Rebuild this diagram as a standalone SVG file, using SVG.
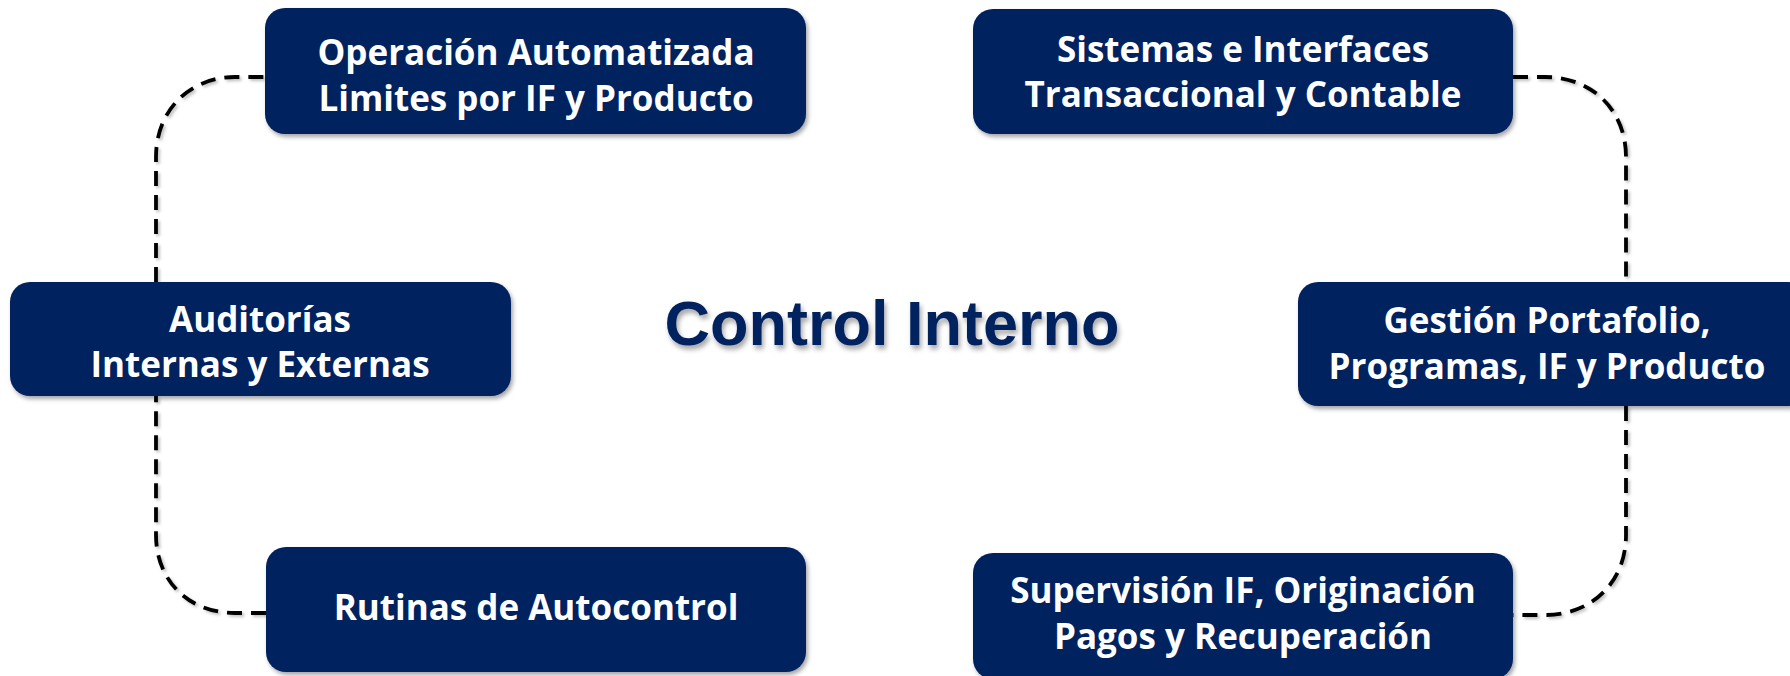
<svg xmlns="http://www.w3.org/2000/svg" width="1790" height="676" viewBox="0 0 1790 676">
  <defs>
    <filter id="boxShadow" x="-10%" y="-10%" width="120%" height="130%">
      <feDropShadow dx="2" dy="3" stdDeviation="2" flood-color="#000" flood-opacity="0.35"/>
    </filter>
    <filter id="lineShadow" x="-10%" y="-10%" width="120%" height="120%">
      <feDropShadow dx="2" dy="2" stdDeviation="1.5" flood-color="#000" flood-opacity="0.25"/>
    </filter>
    <filter id="titleShadow" x="-10%" y="-20%" width="120%" height="150%">
      <feDropShadow dx="2" dy="4" stdDeviation="2.5" flood-color="#000" flood-opacity="0.35"/>
    </filter>
  </defs>
  <style>
    .box { fill: #03215f; filter: url(#boxShadow); }
    .lbl { fill: #ffffff; font-family: "Open Sans", "Noto Sans", sans-serif; font-weight: bold; font-size: 35px; text-anchor: middle; }
    .conn { fill: none; stroke: #000; stroke-width: 3.8; stroke-dasharray: 15 9; filter: url(#lineShadow); }
    .title { fill: #03215f; font-family: "Liberation Sans", Arial, sans-serif; font-weight: bold; font-size: 63px; text-anchor: middle; filter: url(#titleShadow); }
  </style>
  <rect width="1790" height="676" fill="#ffffff"/>

  <g id="connectors">
    <path class="conn" d="M 806 77 L 973 77"/>
    <path class="conn" d="M 1513 77 L 1545 77 C 1592 77 1626 110 1626 157 L 1626 282"/>
    <path class="conn" d="M 1626 406 L 1626 535 C 1626 582 1592 615 1545 615 L 1513 615"/>
    <path class="conn" d="M 973 615 L 806 615"/>
    <path class="conn" d="M 266 613 L 235 613 C 188 613 156 580 156 535 L 156 396"/>
    <path class="conn" d="M 156 282 L 156 157 C 156 110 190 77 235 77 L 265 77"/>
  </g>

  <g id="title">
    <text class="title" x="892" y="345">Control Interno</text>
  </g>

  <g id="node-operacion">
    <rect class="box" x="265" y="8" width="541" height="126" rx="20"/>
    <text class="lbl" x="536" y="65">Operación Automatizada</text>
    <text class="lbl" x="536" y="111">Limites por IF y Producto</text>
  </g>

  <g id="node-sistemas">
    <rect class="box" x="973" y="9" width="540" height="125" rx="20"/>
    <text class="lbl" x="1243" y="62">Sistemas e Interfaces</text>
    <text class="lbl" x="1243" y="107">Transaccional y Contable</text>
  </g>

  <g id="node-auditorias">
    <rect class="box" x="10" y="282" width="501" height="114" rx="20"/>
    <text class="lbl" x="260" y="332">Auditorías</text>
    <text class="lbl" x="260" y="377">Internas y Externas</text>
  </g>

  <g id="node-gestion">
    <rect class="box" x="1298" y="282" width="510" height="124" rx="20"/>
    <text class="lbl" x="1547" y="333">Gestión Portafolio,</text>
    <text class="lbl" x="1547" y="379">Programas, IF y Producto</text>
  </g>

  <g id="node-rutinas">
    <rect class="box" x="266" y="547" width="540" height="125" rx="20"/>
    <text class="lbl" x="536" y="620">Rutinas de Autocontrol</text>
  </g>

  <g id="node-supervision">
    <rect class="box" x="973" y="553" width="540" height="126" rx="20"/>
    <text class="lbl" x="1243" y="603">Supervisión IF, Originación</text>
    <text class="lbl" x="1243" y="649">Pagos y Recuperación</text>
  </g>
</svg>
